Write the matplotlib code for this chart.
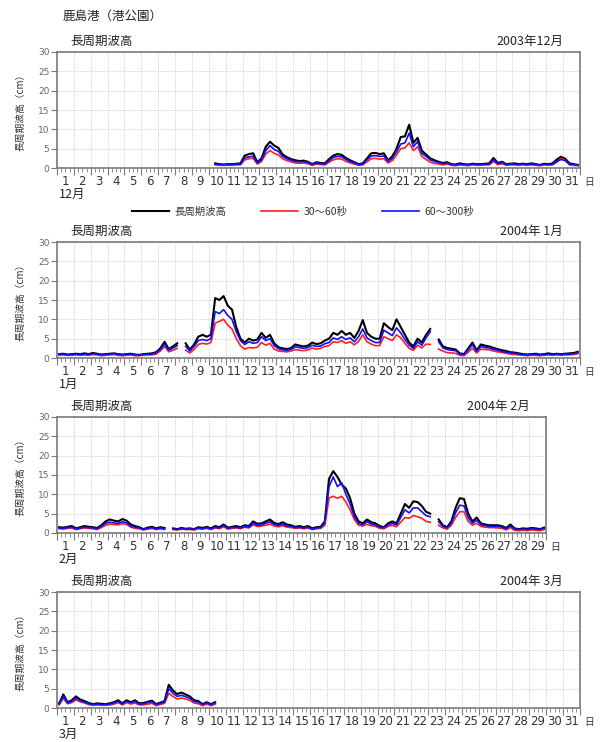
import numpy as np
import matplotlib
matplotlib.use("Agg")
import matplotlib.pyplot as plt
from matplotlib.transforms import blended_transform_factory

plt.rcParams['font.family'] = ['Noto Sans CJK JP', 'DejaVu Sans']

nan = np.nan
STEP = 0.25  # 6-hour samples (days)

# ---------------- data ----------------
station_title = "鹿島港（港公園）"
panel_title = "長周期波高"
ylabel = "長周期波高（cm）"
legend_labels = ["長周期波高", "30～60秒", "60～300秒"]
month_titles = ["2003年12月", "2004年 1月", "2004年 2月", "2004年 3月"]
month_labels = ["12月", "1月", "2月", "3月"]
month_days = [31, 31, 29, 31]
month_start = [9.375, 0.125, 0.125, 0.125]
yticks = [0, 5, 10, 15, 20, 25, 30]

dec_total = [1.2, 1.0, 0.9, 1.0, 1.0, 1.1, 1.2, 3.2, 3.6, 3.8, 1.5, 2.5, 5.5, 6.8, 5.8,
             5.2, 3.5, 2.8, 2.3, 2.0, 1.8, 1.9, 1.6, 1.0, 1.5, 1.3, 1.2, 2.3, 3.2, 3.6, 3.4,
             2.6, 2.0, 1.5, 1.0, 1.2, 2.5, 3.8, 3.9, 3.6, 3.8, 2.0, 3.0, 5.0, 8.0, 8.2, 11.2,
             6.5, 7.8, 4.5, 3.5, 2.5, 2.0, 1.6, 1.3, 1.5, 1.0, 0.9, 1.2, 1.0, 0.9, 1.1, 1.0,
             1.0, 1.1, 1.2, 2.6, 1.3, 1.6, 1.0, 1.1, 1.2, 1.0, 1.1, 1.0, 1.2, 1.0, 0.8, 1.1,
             1.0, 1.2, 2.2, 2.9, 2.4, 1.2, 1.0, 0.8]
dec_blue = [1.0, 0.9, 0.8, 0.9, 0.9, 1.0, 1.0, 2.6, 2.9, 3.0, 1.3, 2.1, 4.5, 5.8, 4.8,
            4.3, 3.0, 2.4, 2.0, 1.7, 1.6, 1.6, 1.4, 0.9, 1.3, 1.1, 1.0, 1.9, 2.7, 3.0, 2.9,
            2.2, 1.7, 1.3, 0.9, 1.0, 2.1, 3.1, 3.2, 3.0, 3.1, 1.7, 2.5, 4.2, 6.2, 6.5, 9.0,
            5.5, 6.8, 3.8, 3.0, 2.1, 1.7, 1.4, 1.1, 1.3, 0.9, 0.8, 1.0, 0.9, 0.8, 1.0, 0.9,
            0.9, 1.0, 1.0, 2.1, 1.1, 1.4, 0.9, 1.0, 1.0, 0.9, 1.0, 0.9, 1.0, 0.9, 0.7, 1.0,
            0.9, 1.0, 1.7, 2.2, 1.9, 1.0, 0.9, 0.7]
dec_red = [0.8, 0.7, 0.7, 0.7, 0.7, 0.8, 0.8, 2.1, 2.4, 2.5, 1.0, 1.7, 3.6, 4.5, 3.8,
           3.4, 2.4, 1.9, 1.6, 1.3, 1.2, 1.3, 1.1, 0.7, 1.0, 0.9, 0.8, 1.5, 2.1, 2.4, 2.3,
           1.7, 1.3, 1.0, 0.7, 0.8, 1.6, 2.4, 2.5, 2.3, 2.4, 1.3, 1.9, 3.3, 5.0, 5.2, 6.5,
           4.5, 5.5, 3.0, 2.2, 1.5, 1.2, 1.0, 0.8, 1.0, 0.7, 0.6, 0.8, 0.7, 0.6, 0.8, 0.7,
           0.7, 0.8, 0.8, 1.7, 0.9, 1.1, 0.7, 0.8, 0.8, 0.7, 0.8, 0.7, 0.8, 0.7, 0.6, 0.8,
           0.7, 0.8, 1.5, 2.5, 2.0, 0.8, 0.7, 0.6]

jan_total = [1.0, 1.1, 0.9, 1.0, 1.1, 1.0, 1.2, 1.0, 1.3, 1.1, 0.9, 1.0, 1.1, 1.2, 1.0, 0.9,
             1.0, 1.1, 0.9, 0.8, 1.0, 1.1, 1.2, 1.5, 2.5, 4.2, 2.3, 3.0, 3.8, nan, 3.8, 2.2,
             3.5, 5.5, 6.0, 5.5, 6.0, 15.5, 15.0, 16.0, 13.5, 12.5, 8.0, 5.0, 4.0, 5.0, 4.5, 4.8,
             6.5, 5.2, 6.0, 3.8, 2.8, 2.5, 2.3, 2.6, 3.5, 3.2, 3.0, 3.2, 4.0, 3.6, 3.8, 4.5,
             5.0, 6.5, 6.0, 7.0, 6.0, 6.5, 5.2, 7.0, 9.8, 6.5, 5.5, 5.0, 5.0, 9.0, 8.0, 7.2,
             10.0, 8.0, 6.0, 4.0, 3.0, 5.0, 4.0, 6.0, 7.5, nan, 4.8, 3.0, 2.6, 2.4, 2.2, 1.2,
             1.0, 2.5, 4.0, 2.0, 3.5, 3.2, 3.0, 2.6, 2.3, 2.0, 1.8, 1.5, 1.4, 1.2, 1.0, 0.9,
             1.0, 1.1, 0.9, 1.0, 1.2, 1.0, 1.1, 1.0, 1.1, 1.2, 1.3, 1.6]
jan_blue = [0.9, 1.0, 0.8, 0.9, 1.0, 0.9, 1.0, 0.9, 1.1, 1.0, 0.8, 0.9, 1.0, 1.1, 0.9, 0.8,
            0.9, 1.0, 0.8, 0.7, 0.9, 1.0, 1.0, 1.3, 2.2, 3.6, 2.0, 2.6, 3.2, nan, 3.0, 1.8,
            3.0, 4.5, 4.8, 4.5, 5.0, 12.0, 11.5, 12.5, 11.0, 10.0, 6.8, 4.5, 3.5, 4.2, 3.8, 4.0,
            5.5, 4.5, 5.0, 3.2, 2.4, 2.1, 2.0, 2.2, 2.9, 2.7, 2.5, 2.7, 3.3, 3.0, 3.1, 3.7,
            4.0, 5.2, 4.8, 5.5, 4.8, 5.2, 4.2, 5.5, 7.5, 5.2, 4.5, 4.0, 4.0, 7.2, 6.5, 5.8,
            7.8, 6.5, 4.8, 3.3, 2.5, 4.2, 3.3, 5.2, 6.8, nan, 4.2, 2.6, 2.2, 2.0, 1.9, 1.0,
            0.9, 2.1, 3.4, 1.7, 3.0, 2.7, 2.6, 2.2, 2.0, 1.7, 1.5, 1.3, 1.2, 1.0, 0.9, 0.8,
            0.9, 0.9, 0.8, 0.9, 1.0, 0.9, 1.0, 0.9, 1.0, 1.0, 1.1, 1.4]
jan_red = [0.7, 0.8, 0.7, 0.7, 0.8, 0.7, 0.8, 0.7, 0.9, 0.8, 0.6, 0.7, 0.8, 0.9, 0.7, 0.6,
           0.7, 0.8, 0.6, 0.6, 0.7, 0.8, 0.8, 1.0, 1.8, 3.0, 1.6, 2.0, 2.5, nan, 2.0, 1.3,
           2.2, 3.5, 3.8, 3.6, 4.0, 9.0, 9.5, 10.0, 8.5, 7.5, 5.0, 3.2, 2.3, 2.7, 2.6, 2.8,
           4.0, 3.3, 3.8, 2.3, 1.8, 1.7, 1.6, 1.8, 2.2, 2.0, 1.9, 2.1, 2.6, 2.3, 2.5, 3.0,
           3.2, 4.2, 4.0, 4.5, 3.8, 4.2, 3.4, 4.3, 6.0, 4.2, 3.6, 3.2, 3.2, 5.5, 5.0, 4.5,
           6.0, 5.2, 3.8, 2.5, 2.0, 3.3, 2.6, 3.6, 3.5, nan, 2.3, 1.8, 1.4, 1.3, 1.2, 0.7,
           0.6, 1.5, 2.5, 1.3, 2.3, 2.2, 2.1, 1.8, 1.6, 1.4, 1.2, 1.0, 0.9, 0.8, 0.7, 0.6,
           0.7, 0.7, 0.6, 0.7, 0.8, 0.7, 0.8, 0.7, 0.8, 0.8, 0.9, 1.1]

feb_total = [1.5, 1.4, 1.6, 1.8, 1.2, 1.5, 1.8, 1.6, 1.5, 1.3, 2.0, 3.0, 3.5, 3.2, 3.0, 3.6,
             3.2, 2.2, 1.8, 1.5, 1.0, 1.4, 1.6, 1.2, 1.5, 1.3, nan, 1.2, 1.0, 1.3, 1.1, 1.2,
             1.0, 1.5, 1.3, 1.6, 1.2, 1.8, 1.5, 2.2, 1.4, 1.6, 1.8, 1.5, 2.0, 1.8, 3.0, 2.4,
             2.5, 3.0, 3.5, 2.6, 2.3, 2.8, 2.2, 2.0, 1.6, 1.8, 1.5, 1.8, 1.2, 1.5, 1.6, 3.0,
             14.0, 16.0, 14.5, 12.5, 11.5, 9.0, 5.0, 3.0, 2.5, 3.5, 2.8, 2.5, 1.8, 1.5, 2.5, 3.0,
             2.5, 5.0, 7.5, 6.5, 8.2, 8.0, 7.0, 5.5, 5.0, nan, 3.5, 2.0, 1.5, 3.0, 6.5, 9.0,
             8.8, 5.0, 3.0, 4.0, 2.5, 2.2, 2.0, 2.0, 2.0, 1.8, 1.3, 2.2, 1.2, 1.0, 1.2, 1.1,
             1.3, 1.2, 1.0, 1.4]
feb_blue = [1.3, 1.2, 1.4, 1.5, 1.0, 1.3, 1.5, 1.4, 1.3, 1.1, 1.7, 2.5, 2.8, 2.6, 2.5, 2.9,
            2.6, 1.8, 1.5, 1.3, 0.9, 1.2, 1.4, 1.0, 1.3, 1.1, nan, 1.0, 0.9, 1.1, 1.0, 1.0,
            0.9, 1.3, 1.1, 1.4, 1.0, 1.5, 1.3, 1.9, 1.2, 1.4, 1.5, 1.3, 1.7, 1.5, 2.5, 2.0,
            2.1, 2.5, 2.9, 2.2, 1.9, 2.3, 1.8, 1.7, 1.4, 1.5, 1.3, 1.5, 1.0, 1.3, 1.4, 2.5,
            12.0, 14.5, 12.0, 13.0, 10.0, 7.5, 4.2, 2.5, 2.1, 2.9, 2.3, 2.1, 1.5, 1.3, 2.1, 2.5,
            2.1, 4.0, 6.0, 5.2, 6.5, 6.5, 5.5, 4.5, 4.2, nan, 2.9, 1.7, 1.3, 2.5, 5.2, 7.2,
            7.0, 4.0, 2.5, 3.3, 2.1, 1.9, 1.7, 1.7, 1.7, 1.5, 1.1, 1.8, 1.0, 0.9, 1.0, 0.9,
            1.1, 1.0, 0.9, 1.2]
feb_red = [1.1, 1.0, 1.2, 1.3, 0.9, 1.1, 1.3, 1.2, 1.1, 0.9, 1.4, 2.0, 2.3, 2.2, 2.1, 2.4,
           2.2, 1.5, 1.2, 1.1, 0.8, 1.0, 1.2, 0.9, 1.1, 0.9, nan, 0.9, 0.8, 1.0, 0.9, 0.9,
           0.8, 1.1, 1.0, 1.2, 0.9, 1.3, 1.1, 1.6, 1.0, 1.2, 1.3, 1.1, 1.5, 1.3, 2.1, 1.7,
           1.8, 2.0, 2.3, 1.8, 1.6, 1.9, 1.5, 1.4, 1.2, 1.3, 1.1, 1.3, 0.9, 1.1, 1.2, 2.0,
           9.0, 9.5, 9.0, 9.5, 8.0, 6.0, 3.5, 2.0, 1.8, 2.2, 1.9, 1.7, 1.2, 1.1, 1.7, 2.0,
           1.6, 2.8, 4.0, 3.8, 4.5, 4.2, 3.8, 3.0, 2.8, nan, 2.0, 1.3, 1.0, 2.0, 4.0, 5.5,
           5.5, 3.0, 2.0, 2.5, 1.7, 1.5, 1.4, 1.4, 1.3, 1.2, 0.8, 1.4, 0.7, 0.6, 0.7, 0.6,
           0.8, 0.7, 0.6, 0.9]

mar_total = [1.2, 3.5, 1.5, 2.0, 3.0, 2.2, 1.8, 1.3, 1.0, 1.2, 1.1, 1.0, 1.2, 1.5, 2.0, 1.2,
             2.0, 1.5, 2.0, 1.2, 1.3, 1.6, 1.9, 1.0, 1.4, 1.8, 6.0, 4.5, 3.6, 4.0, 3.5, 3.0,
             2.0, 1.8, 1.0, 1.5, 1.0, 1.5]
mar_blue = [1.0, 3.0, 1.3, 1.7, 2.5, 1.9, 1.5, 1.1, 0.9, 1.0, 0.9, 0.9, 1.0, 1.3, 1.7, 1.0,
            1.7, 1.3, 1.7, 1.0, 1.1, 1.4, 1.6, 0.9, 1.2, 1.5, 5.0, 3.8, 3.0, 3.3, 2.9, 2.5,
            1.7, 1.5, 0.9, 1.3, 0.9, 1.3]
mar_red = [0.8, 2.5, 1.1, 1.4, 2.1, 1.6, 1.3, 0.9, 0.7, 0.8, 0.7, 0.7, 0.8, 1.0, 1.4, 0.8,
           1.4, 1.0, 1.3, 0.8, 0.8, 1.0, 1.2, 0.6, 0.9, 1.2, 3.8, 3.0, 2.3, 2.6, 2.3, 2.0,
           1.3, 1.1, 0.6, 1.0, 0.6, 1.0]

totals = [dec_total, jan_total, feb_total, mar_total]
reds = [dec_red, jan_red, feb_red, mar_red]
blues = [dec_blue, jan_blue, feb_blue, mar_blue]

# ---------------- layout ----------------
W, H = 606, 742
fig = plt.figure(figsize=(W / 100, H / 100), dpi=100)
left_px = 57
day_px = 16.87
axis_h_px = 116
bottom_px = [168, 358, 533, 708]

frame_col = '#7a7a7a'
grid_col = '#cccccc'
handles = None
for k in range(4):
    nd = month_days[k]
    ax = fig.add_axes([left_px / W, 1 - bottom_px[k] / H, nd * day_px / W, axis_h_px / H])
    ax.set_xlim(0, nd)
    ax.set_ylim(0, 30)
    x = month_start[k] + STEP * np.arange(len(totals[k]))
    l1, = ax.plot(x, totals[k], color='black', lw=1.5, zorder=3)
    l2, = ax.plot(x, reds[k], color='#ff2020', lw=1.2, zorder=4)
    l3, = ax.plot(x, blues[k], color='#1010ff', lw=1.2, zorder=5)
    if handles is None:
        handles = [l1, l2, l3]

    for s in ax.spines.values():
        s.set_color(frame_col)
        s.set_linewidth(1.2)
    ax.set_yticks(yticks)
    ax.set_yticklabels([str(v) for v in yticks], fontsize=6.5, color='#666666',
                       family=['DejaVu Sans'])
    ax.tick_params(axis='y', length=4, width=0.8, color=frame_col, pad=1.5)
    ax.set_xticks(np.arange(0, nd + 1, 1))
    ax.set_xticklabels([])
    ax.set_xticks(np.arange(0, nd + 0.01, 0.25), minor=True)
    ax.tick_params(axis='x', which='major', length=5, width=0.8, color=frame_col)
    ax.tick_params(axis='x', which='minor', length=3, width=0.6, color=frame_col)
    ax.grid(True, which='major', color=grid_col, lw=0.6, ls=(0, (1.5, 1.5)))
    ax.set_axisbelow(True)

    tr = blended_transform_factory(ax.transData, ax.transAxes)
    for d in range(1, nd + 1):
        ax.text(d - 0.5, -0.12, str(d), transform=tr, ha='center', va='center',
                fontsize=8.5, color='#333333', family=['Liberation Sans Narrow', 'DejaVu Sans'])
    ax.text(nd + 0.55, -0.12, "日", transform=tr, ha='center', va='center',
            fontsize=7, color='#333333')
    ax.text(0.1, -0.23, month_labels[k], transform=tr, ha='left', va='center',
            fontsize=9, color='#222222')
    ax.text(13 / (nd * day_px), 1.09, panel_title, transform=ax.transAxes, ha='left',
            va='center', fontsize=9, color='#222222')
    ax.text(nd - 1.0, 1.09, month_titles[k], transform=tr, ha='right',
            va='center', fontsize=9, color='#222222')
    ax.set_ylabel(ylabel, fontsize=7, color='#333333', labelpad=9)

fig.text(63 / W, 1 - 16 / H, station_title, ha='left', va='center', fontsize=9,
         color='#222222')

fig.legend(handles, legend_labels, loc='center', bbox_to_anchor=(0.5, 1 - 212 / H),
           ncol=3, frameon=False, fontsize=7.5, handlelength=3.6, handletextpad=0.5,
           columnspacing=3.3, labelcolor='#333333')

fig.savefig("out.png", dpi=100)
